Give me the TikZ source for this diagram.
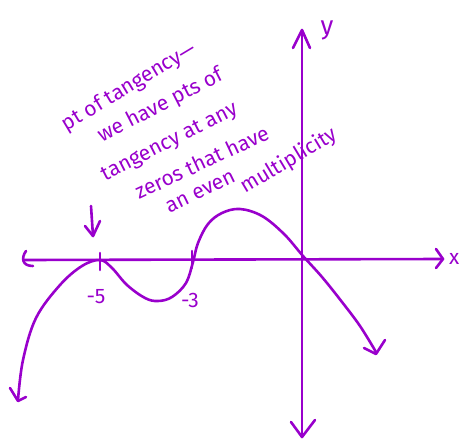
\documentclass[tikz,border=0pt]{standalone}
\usepackage{fontspec}
\setmainfont{Fira Sans}
\definecolor{pen}{RGB}{153,0,204}
\begin{document}
\begin{tikzpicture}[x=1pt,y=-1pt,
  ink/.style={draw=pen,line width=2.6pt,line cap=round,line join=round},
  note/.style={text=pen,font=\fontsize{21}{21}\selectfont,inner sep=0pt,anchor=base},
  lab/.style={text=pen,font=\fontsize{21}{21}\selectfont,inner sep=0pt}]
\useasboundingbox (0,0) rectangle (463,439);
% axes
\coordinate (xl) at (24,260);
\coordinate (xr) at (443,259);
\coordinate (yt) at (302,30);
\coordinate (yb) at (302,437);
\draw[ink] (xl) -- (xr);
\draw[ink] (436,249) -- (xr) -- (436,268);
\draw[ink] (26,251) .. controls (21,258) and (22,266) .. (33,266);
\draw[ink] (yt) -- (yb);
\draw[ink] (293,48) -- (yt) -- (310,48);
\draw[ink] (291,422) -- (yb) -- (315,420);
\node[lab,font=\fontsize{26}{26}\selectfont] (ylab) at (327,30) {y};
\node[lab,anchor=west] (xlab) at (449,259) {x};
% ticks
\draw[ink] (100,253) -- (100,270);
\draw[ink] (192,251) -- (192,268);
\node[lab] (m5) at (96,297) {-5};
\node[lab] (m3) at (190,300) {-3};
% curve
\draw[ink] plot[smooth,tension=0.6] coordinates {(18,400) (23,360) (36,318) (60,285) (82,266) (100,260) (112,268) (127,285) (145,298) (158,301) (172,297) (186,283) (193,262) (198,243) (208,224) (222,213) (240,209) (262,216) (284,234) (303,256) (322,277) (342,302) (360,326) (376,352)};
\draw[ink] (10,388) -- (18,401) -- (26,397);
\draw[ink] (364,348) -- (376,354) -- (385,340);
% small arrow
\draw[ink] (91,206) -- (93,236);
\draw[ink] (85,226) -- (93,236) -- (100,221);
% notes
\node[note,rotate=31] (n1) at (132,92) {pt of tangency—};
\node[note,rotate=27] (n2) at (163,111) {we have pts of};
\node[note,rotate=27] (n3) at (172,147) {tangency at any};
\node[note,rotate=25] (n4) at (205,169) {zeros that have};
\node[note,rotate=26] (n5) at (203,197) {an even};
\node[note,rotate=31] (n6) at (292,166) {multiplicity};
\end{tikzpicture}
\end{document}
